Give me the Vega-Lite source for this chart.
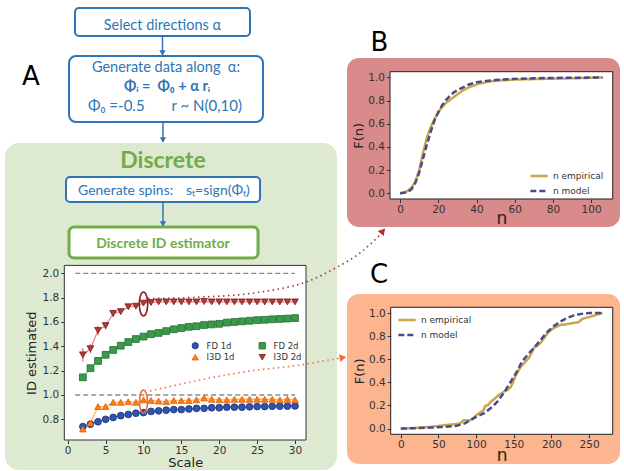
{
  "$schema": "https://vega.github.io/schema/vega-lite/v6.json",
  "width": 624,
  "height": 471,
  "autosize": {"type": "none"},
  "padding": 0,
  "background": "white",
  "config": {
    "view": {"stroke": null},
    "axis": {"grid": false, "domain": false, "labelFont": "DejaVu Sans", "titleFont": "DejaVu Sans", "labelColor": "#333", "titleColor": "#222", "tickColor": "#333", "tickSize": 3.5, "labelPadding": 2, "titleFontWeight": "normal", "labelFontSize": 10.5, "labelFlush": false}
  },
  "datasets": {
    "idcurves": [
      {"series":"FD 1d","scale":2,"id":0.74},{"series":"FD 1d","scale":3,"id":0.76},{"series":"FD 1d","scale":4,"id":0.78},{"series":"FD 1d","scale":5,"id":0.80},{"series":"FD 1d","scale":6,"id":0.815},{"series":"FD 1d","scale":7,"id":0.83},{"series":"FD 1d","scale":8,"id":0.84},{"series":"FD 1d","scale":9,"id":0.85},{"series":"FD 1d","scale":10,"id":0.855},{"series":"FD 1d","scale":11,"id":0.865},{"series":"FD 1d","scale":12,"id":0.87},{"series":"FD 1d","scale":13,"id":0.875},{"series":"FD 1d","scale":14,"id":0.88},{"series":"FD 1d","scale":15,"id":0.88},{"series":"FD 1d","scale":16,"id":0.885},{"series":"FD 1d","scale":17,"id":0.89},{"series":"FD 1d","scale":18,"id":0.89},{"series":"FD 1d","scale":19,"id":0.895},{"series":"FD 1d","scale":20,"id":0.895},{"series":"FD 1d","scale":21,"id":0.90},{"series":"FD 1d","scale":22,"id":0.90},{"series":"FD 1d","scale":23,"id":0.90},{"series":"FD 1d","scale":24,"id":0.903},{"series":"FD 1d","scale":25,"id":0.905},{"series":"FD 1d","scale":26,"id":0.905},{"series":"FD 1d","scale":27,"id":0.907},{"series":"FD 1d","scale":28,"id":0.908},{"series":"FD 1d","scale":29,"id":0.908},{"series":"FD 1d","scale":30,"id":0.91},
      {"series":"FD 2d","scale":2,"id":1.145},{"series":"FD 2d","scale":3,"id":1.22},{"series":"FD 2d","scale":4,"id":1.28},{"series":"FD 2d","scale":5,"id":1.33},{"series":"FD 2d","scale":6,"id":1.37},{"series":"FD 2d","scale":7,"id":1.405},{"series":"FD 2d","scale":8,"id":1.435},{"series":"FD 2d","scale":9,"id":1.46},{"series":"FD 2d","scale":10,"id":1.48},{"series":"FD 2d","scale":11,"id":1.50},{"series":"FD 2d","scale":12,"id":1.51},{"series":"FD 2d","scale":13,"id":1.525},{"series":"FD 2d","scale":14,"id":1.54},{"series":"FD 2d","scale":15,"id":1.55},{"series":"FD 2d","scale":16,"id":1.56},{"series":"FD 2d","scale":17,"id":1.565},{"series":"FD 2d","scale":18,"id":1.575},{"series":"FD 2d","scale":19,"id":1.58},{"series":"FD 2d","scale":20,"id":1.585},{"series":"FD 2d","scale":21,"id":1.595},{"series":"FD 2d","scale":22,"id":1.60},{"series":"FD 2d","scale":23,"id":1.605},{"series":"FD 2d","scale":24,"id":1.61},{"series":"FD 2d","scale":25,"id":1.615},{"series":"FD 2d","scale":26,"id":1.618},{"series":"FD 2d","scale":27,"id":1.622},{"series":"FD 2d","scale":28,"id":1.625},{"series":"FD 2d","scale":29,"id":1.628},{"series":"FD 2d","scale":30,"id":1.632},
      {"series":"I3D 1d","scale":2,"id":0.72,"err":0.015},{"series":"I3D 1d","scale":3,"id":0.77,"err":0.015},{"series":"I3D 1d","scale":4,"id":0.905,"err":0.012},{"series":"I3D 1d","scale":5,"id":0.905,"err":0.01},{"series":"I3D 1d","scale":6,"id":0.94,"err":0.01},{"series":"I3D 1d","scale":7,"id":0.94,"err":0.008},{"series":"I3D 1d","scale":8,"id":0.945,"err":0.008},{"series":"I3D 1d","scale":9,"id":0.94,"err":0.008},{"series":"I3D 1d","scale":10,"id":0.96,"err":0.008},{"series":"I3D 1d","scale":11,"id":0.955,"err":0.008},{"series":"I3D 1d","scale":12,"id":0.95,"err":0.008},{"series":"I3D 1d","scale":13,"id":0.945,"err":0.008},{"series":"I3D 1d","scale":14,"id":0.955,"err":0.008},{"series":"I3D 1d","scale":15,"id":0.955,"err":0.008},{"series":"I3D 1d","scale":16,"id":0.955,"err":0.008},{"series":"I3D 1d","scale":17,"id":0.96,"err":0.008},{"series":"I3D 1d","scale":18,"id":0.975,"err":0.008},{"series":"I3D 1d","scale":19,"id":0.965,"err":0.008},{"series":"I3D 1d","scale":20,"id":0.96,"err":0.008},{"series":"I3D 1d","scale":21,"id":0.96,"err":0.008},{"series":"I3D 1d","scale":22,"id":0.965,"err":0.008},{"series":"I3D 1d","scale":23,"id":0.965,"err":0.008},{"series":"I3D 1d","scale":24,"id":0.965,"err":0.008},{"series":"I3D 1d","scale":25,"id":0.965,"err":0.008},{"series":"I3D 1d","scale":26,"id":0.965,"err":0.008},{"series":"I3D 1d","scale":27,"id":0.965,"err":0.008},{"series":"I3D 1d","scale":28,"id":0.96,"err":0.008},{"series":"I3D 1d","scale":29,"id":0.965,"err":0.008},{"series":"I3D 1d","scale":30,"id":0.96,"err":0.008},
      {"series":"I3D 2d","scale":2,"id":1.33,"err":0.055},{"series":"I3D 2d","scale":3,"id":1.38,"err":0.04},{"series":"I3D 2d","scale":4,"id":1.53,"err":0.04},{"series":"I3D 2d","scale":5,"id":1.57,"err":0.03},{"series":"I3D 2d","scale":6,"id":1.67,"err":0.03},{"series":"I3D 2d","scale":7,"id":1.685,"err":0.02},{"series":"I3D 2d","scale":8,"id":1.725,"err":0.015},{"series":"I3D 2d","scale":9,"id":1.73,"err":0.015},{"series":"I3D 2d","scale":10,"id":1.755,"err":0.012},{"series":"I3D 2d","scale":11,"id":1.76,"err":0.01},{"series":"I3D 2d","scale":12,"id":1.765,"err":0.01},{"series":"I3D 2d","scale":13,"id":1.765,"err":0.01},{"series":"I3D 2d","scale":14,"id":1.765,"err":0.01},{"series":"I3D 2d","scale":15,"id":1.765,"err":0.01},{"series":"I3D 2d","scale":16,"id":1.765,"err":0.01},{"series":"I3D 2d","scale":17,"id":1.765,"err":0.01},{"series":"I3D 2d","scale":18,"id":1.768,"err":0.01},{"series":"I3D 2d","scale":19,"id":1.765,"err":0.01},{"series":"I3D 2d","scale":20,"id":1.765,"err":0.01},{"series":"I3D 2d","scale":21,"id":1.765,"err":0.01},{"series":"I3D 2d","scale":22,"id":1.765,"err":0.01},{"series":"I3D 2d","scale":23,"id":1.765,"err":0.01},{"series":"I3D 2d","scale":24,"id":1.765,"err":0.01},{"series":"I3D 2d","scale":25,"id":1.765,"err":0.01},{"series":"I3D 2d","scale":26,"id":1.765,"err":0.01},{"series":"I3D 2d","scale":27,"id":1.765,"err":0.01},{"series":"I3D 2d","scale":28,"id":1.765,"err":0.01},{"series":"I3D 2d","scale":29,"id":1.765,"err":0.01},{"series":"I3D 2d","scale":30,"id":1.765,"err":0.01}
    ],
    "cdfB": [
      {"series":"n empirical","n":0,"F":0},{"series":"n empirical","n":2,"F":0.005},{"series":"n empirical","n":4,"F":0.02},{"series":"n empirical","n":6,"F":0.05},{"series":"n empirical","n":8,"F":0.1},{"series":"n empirical","n":10,"F":0.2},{"series":"n empirical","n":12,"F":0.35},{"series":"n empirical","n":14,"F":0.48},{"series":"n empirical","n":16,"F":0.57},{"series":"n empirical","n":18,"F":0.64},{"series":"n empirical","n":20,"F":0.7},{"series":"n empirical","n":22,"F":0.745},{"series":"n empirical","n":24,"F":0.78},{"series":"n empirical","n":26,"F":0.805},{"series":"n empirical","n":28,"F":0.83},{"series":"n empirical","n":30,"F":0.855},{"series":"n empirical","n":33,"F":0.89},{"series":"n empirical","n":36,"F":0.915},{"series":"n empirical","n":40,"F":0.94},{"series":"n empirical","n":45,"F":0.96},{"series":"n empirical","n":50,"F":0.972},{"series":"n empirical","n":60,"F":0.982},{"series":"n empirical","n":70,"F":0.986},{"series":"n empirical","n":80,"F":0.99},{"series":"n empirical","n":90,"F":0.993},{"series":"n empirical","n":100,"F":0.997},{"series":"n empirical","n":106,"F":1.0},
      {"series":"n model","n":0,"F":0},{"series":"n model","n":2,"F":0.003},{"series":"n model","n":4,"F":0.012},{"series":"n model","n":6,"F":0.035},{"series":"n model","n":8,"F":0.09},{"series":"n model","n":10,"F":0.18},{"series":"n model","n":12,"F":0.3},{"series":"n model","n":14,"F":0.42},{"series":"n model","n":16,"F":0.53},{"series":"n model","n":18,"F":0.63},{"series":"n model","n":20,"F":0.7},{"series":"n model","n":22,"F":0.76},{"series":"n model","n":24,"F":0.805},{"series":"n model","n":26,"F":0.84},{"series":"n model","n":28,"F":0.87},{"series":"n model","n":30,"F":0.89},{"series":"n model","n":33,"F":0.915},{"series":"n model","n":36,"F":0.94},{"series":"n model","n":40,"F":0.958},{"series":"n model","n":45,"F":0.97},{"series":"n model","n":50,"F":0.978},{"series":"n model","n":60,"F":0.988},{"series":"n model","n":70,"F":0.993},{"series":"n model","n":80,"F":0.996},{"series":"n model","n":90,"F":0.998},{"series":"n model","n":100,"F":0.999},{"series":"n model","n":106,"F":1.0}
    ],
    "cdfC": [
      {"series":"n empirical","n":0,"F":0},{"series":"n empirical","n":20,"F":0.005},{"series":"n empirical","n":40,"F":0.015},{"series":"n empirical","n":60,"F":0.03},{"series":"n empirical","n":76,"F":0.04},{"series":"n empirical","n":80,"F":0.05},{"series":"n empirical","n":83,"F":0.072},{"series":"n empirical","n":92,"F":0.072},{"series":"n empirical","n":96,"F":0.09},{"series":"n empirical","n":101,"F":0.12},{"series":"n empirical","n":106,"F":0.14},{"series":"n empirical","n":110,"F":0.16},{"series":"n empirical","n":112,"F":0.195},{"series":"n empirical","n":116,"F":0.205},{"series":"n empirical","n":120,"F":0.235},{"series":"n empirical","n":125,"F":0.26},{"series":"n empirical","n":129,"F":0.285},{"series":"n empirical","n":133,"F":0.3},{"series":"n empirical","n":137,"F":0.32},{"series":"n empirical","n":142,"F":0.335},{"series":"n empirical","n":146,"F":0.36},{"series":"n empirical","n":149,"F":0.4},{"series":"n empirical","n":152,"F":0.45},{"series":"n empirical","n":156,"F":0.5},{"series":"n empirical","n":160,"F":0.54},{"series":"n empirical","n":163,"F":0.56},{"series":"n empirical","n":167,"F":0.59},{"series":"n empirical","n":170,"F":0.61},{"series":"n empirical","n":174,"F":0.66},{"series":"n empirical","n":177,"F":0.7},{"series":"n empirical","n":182,"F":0.72},{"series":"n empirical","n":186,"F":0.745},{"series":"n empirical","n":190,"F":0.78},{"series":"n empirical","n":195,"F":0.826},{"series":"n empirical","n":199,"F":0.85},{"series":"n empirical","n":203,"F":0.87},{"series":"n empirical","n":208,"F":0.885},{"series":"n empirical","n":212,"F":0.898},{"series":"n empirical","n":218,"F":0.9},{"series":"n empirical","n":225,"F":0.91},{"series":"n empirical","n":230,"F":0.915},{"series":"n empirical","n":236,"F":0.92},{"series":"n empirical","n":240,"F":0.945},{"series":"n empirical","n":245,"F":0.958},{"series":"n empirical","n":250,"F":0.965},{"series":"n empirical","n":256,"F":0.977},{"series":"n empirical","n":262,"F":0.99},{"series":"n empirical","n":268,"F":1.0},
      {"series":"n model","n":0,"F":0},{"series":"n model","n":20,"F":0.003},{"series":"n model","n":40,"F":0.008},{"series":"n model","n":60,"F":0.016},{"series":"n model","n":74,"F":0.023},{"series":"n model","n":85,"F":0.045},{"series":"n model","n":92,"F":0.07},{"series":"n model","n":100,"F":0.1},{"series":"n model","n":110,"F":0.13},{"series":"n model","n":120,"F":0.18},{"series":"n model","n":128,"F":0.23},{"series":"n model","n":137,"F":0.31},{"series":"n model","n":146,"F":0.405},{"series":"n model","n":154,"F":0.49},{"series":"n model","n":161,"F":0.58},{"series":"n model","n":170,"F":0.65},{"series":"n model","n":177,"F":0.7},{"series":"n model","n":186,"F":0.77},{"series":"n model","n":195,"F":0.84},{"series":"n model","n":203,"F":0.885},{"series":"n model","n":212,"F":0.927},{"series":"n model","n":220,"F":0.955},{"series":"n model","n":230,"F":0.98},{"series":"n model","n":240,"F":0.993},{"series":"n model","n":250,"F":1.0},{"series":"n model","n":268,"F":1.0}
    ],
    "arrows": [
      {"arrow":"B","scale":10.6,"id":1.793},{"arrow":"B","scale":17.06,"id":1.803},{"arrow":"B","scale":25.78,"id":1.849},{"arrow":"B","scale":31.58,"id":1.931},{"arrow":"B","scale":35.27,"id":2.041},{"arrow":"B","scale":38.58,"id":2.167},{"arrow":"B","scale":41.22,"id":2.315},
      {"arrow":"C","scale":10.86,"id":1.033},{"arrow":"C","scale":17.46,"id":1.123},{"arrow":"C","scale":24.06,"id":1.197},{"arrow":"C","scale":30.66,"id":1.246},{"arrow":"C","scale":35.27,"id":1.296},{"arrow":"C","scale":36.07,"id":1.304}
    ]
  },
  "layer": [
    {
      "data": {"values": [{}]},
      "layer": [
        {"mark": {"type": "rect", "fill": "#dde9d1", "cornerRadius": 14},
         "encoding": {"x": {"datum": 0.008, "type": "quantitative", "scale": {"domain": [0, 1], "range": [0, 624], "nice": false, "zero": false}, "axis": null}, "x2": {"datum": 0.5401},
                      "y": {"datum": 0.3036, "type": "quantitative", "scale": {"domain": [0, 1], "range": [0, 471], "nice": false, "zero": false}, "axis": null}, "y2": {"datum": 0.9979}}},
        {"mark": {"type": "rect", "fill": "#d98a8a", "cornerRadius": 12},
         "encoding": {"x": {"datum": 0.5561, "axis": null}, "x2": {"datum": 0.9936}, "y": {"datum": 0.1231, "axis": null}, "y2": {"datum": 0.482}}},
        {"mark": {"type": "rect", "fill": "#fcb58e", "cornerRadius": 12},
         "encoding": {"x": {"datum": 0.5561, "axis": null}, "x2": {"datum": 0.9936}, "y": {"datum": 0.6242, "axis": null}, "y2": {"datum": 0.9851}}},
        {"mark": {"type": "rect", "fill": "white", "stroke": "#2e75b6", "strokeWidth": 2, "cornerRadius": 4},
         "encoding": {"x": {"datum": 0.1202, "axis": null}, "x2": {"datum": 0.4006}, "y": {"datum": 0.017, "axis": null}, "y2": {"datum": 0.0764}}},
        {"mark": {"type": "rect", "fill": "white", "stroke": "#2e75b6", "strokeWidth": 2, "cornerRadius": 7},
         "encoding": {"x": {"datum": 0.1106, "axis": null}, "x2": {"datum": 0.4215}, "y": {"datum": 0.1189, "axis": null}, "y2": {"datum": 0.259}}},
        {"mark": {"type": "rect", "fill": "white", "stroke": "#2e75b6", "strokeWidth": 2, "cornerRadius": 4},
         "encoding": {"x": {"datum": 0.1058, "axis": null}, "x2": {"datum": 0.4167}, "y": {"datum": 0.3758, "axis": null}, "y2": {"datum": 0.4289}}},
        {"mark": {"type": "rect", "fill": "white", "stroke": "#70ad47", "strokeWidth": 3, "cornerRadius": 5},
         "encoding": {"x": {"datum": 0.1106, "axis": null}, "x2": {"datum": 0.4135}, "y": {"datum": 0.482, "axis": null}, "y2": {"datum": 0.5478}}},
        {"mark": {"type": "rule", "stroke": "#2e75b6", "strokeWidth": 1.5},
         "encoding": {"x": {"datum": 0.2604, "axis": null}, "y": {"datum": 0.0764, "axis": null}, "y2": {"datum": 0.1125}}},
        {"mark": {"type": "rule", "stroke": "#2e75b6", "strokeWidth": 1.5},
         "encoding": {"x": {"datum": 0.2612, "axis": null}, "y": {"datum": 0.259, "axis": null}, "y2": {"datum": 0.2972}}},
        {"mark": {"type": "rule", "stroke": "#2e75b6", "strokeWidth": 1.5},
         "encoding": {"x": {"datum": 0.2612, "axis": null}, "y": {"datum": 0.4289, "axis": null}, "y2": {"datum": 0.4756}}},
        {"mark": {"type": "point", "shape": "triangle-down", "filled": true, "size": 40, "color": "#2e75b6", "opacity": 1},
         "encoding": {"x": {"datum": 0.2604, "axis": null}, "y": {"datum": 0.1125, "axis": null}}},
        {"mark": {"type": "point", "shape": "triangle-down", "filled": true, "size": 40, "color": "#2e75b6", "opacity": 1},
         "encoding": {"x": {"datum": 0.2612, "axis": null}, "y": {"datum": 0.2972, "axis": null}}},
        {"mark": {"type": "point", "shape": "triangle-down", "filled": true, "size": 40, "color": "#2e75b6", "opacity": 1},
         "encoding": {"x": {"datum": 0.2612, "axis": null}, "y": {"datum": 0.4756, "axis": null}}},
        {"mark": {"type": "text", "text": "A", "font": "DejaVu Sans", "fontSize": 26, "color": "black", "align": "center", "baseline": "alphabetic"},
         "encoding": {"x": {"datum": 0.0497, "axis": null}, "y": {"datum": 0.1805, "axis": null}}},
        {"mark": {"type": "text", "text": "B", "font": "DejaVu Sans", "fontSize": 26, "color": "black", "align": "center", "baseline": "alphabetic"},
         "encoding": {"x": {"datum": 0.6082, "axis": null}, "y": {"datum": 0.1083, "axis": null}}},
        {"mark": {"type": "text", "text": "C", "font": "DejaVu Sans", "fontSize": 26, "color": "black", "align": "center", "baseline": "alphabetic"},
         "encoding": {"x": {"datum": 0.6074, "axis": null}, "y": {"datum": 0.6008, "axis": null}}},
        {"mark": {"type": "text", "text": "Select directions α", "font": "Lato", "fontSize": 14.5, "color": "#2e75b6", "align": "center", "baseline": "alphabetic"},
         "encoding": {"x": {"datum": 0.2604, "axis": null}, "y": {"datum": 0.0637, "axis": null}}},
        {"mark": {"type": "text", "text": "Generate data along\u00a0\u00a0α:", "font": "Lato", "fontSize": 14.5, "color": "#2e75b6", "align": "center", "baseline": "alphabetic"},
         "encoding": {"x": {"datum": 0.266, "axis": null}, "y": {"datum": 0.1529, "axis": null}}},
        {"mark": {"type": "text", "text": "Φᵢ\u00a0=\u00a0\u00a0Φ₀\u00a0+\u00a0α rᵢ", "font": "Lato", "fontSize": 14.5, "fontWeight": "bold", "color": "#2e75b6", "align": "center", "baseline": "alphabetic"},
         "encoding": {"x": {"datum": 0.2676, "axis": null}, "y": {"datum": 0.1932, "axis": null}}},
        {"mark": {"type": "text", "text": "Φ₀\u00a0=-0.5\u00a0\u00a0\u00a0\u00a0\u00a0\u00a0\u00a0r ~ N(0,10)", "font": "Lato", "fontSize": 15, "color": "#2e75b6", "align": "center", "baseline": "alphabetic"},
         "encoding": {"x": {"datum": 0.2644, "axis": null}, "y": {"datum": 0.2357, "axis": null}}},
        {"mark": {"type": "text", "text": "Discrete", "font": "Lato", "fontSize": 23, "fontWeight": "bold", "color": "#70ad47", "align": "center", "baseline": "alphabetic"},
         "encoding": {"x": {"datum": 0.2612, "axis": null}, "y": {"datum": 0.3567, "axis": null}}},
        {"mark": {"type": "text", "text": "Generate spins:", "font": "Lato", "fontSize": 14, "color": "#2e75b6", "align": "left", "baseline": "alphabetic"},
         "encoding": {"x": {"datum": 0.125, "axis": null}, "y": {"datum": 0.414, "axis": null}}},
        {"mark": {"type": "text", "text": "sₜ=sign(Φₜ)", "font": "Lato", "fontSize": 14, "color": "#2e75b6", "align": "left", "baseline": "alphabetic"},
         "encoding": {"x": {"datum": 0.2981, "axis": null}, "y": {"datum": 0.414, "axis": null}}},
        {"mark": {"type": "text", "text": "Discrete ID estimator", "font": "Lato", "fontSize": 14, "fontWeight": "bold", "color": "#70ad47", "align": "center", "baseline": "alphabetic"},
         "encoding": {"x": {"datum": 0.2612, "axis": null}, "y": {"datum": 0.5265, "axis": null}}}
      ]
    },
    {
      "data": {"name": "idcurves"},
      "layer": [
        {"data": {"values": [{}]},
         "mark": {"type": "rect", "fill": "white", "stroke": "#333", "strokeWidth": 1},
         "encoding": {
           "x": {"datum": -0.45, "type": "quantitative", "scale": {"domain": [-0.45, 31.45], "range": [64.3, 306], "nice": false, "zero": false},
                 "axis": {"orient": "bottom", "offset": -31, "zindex": 2, "values": [0, 5, 10, 15, 20, 25, 30], "title": "Scale", "titleFontSize": 13, "titlePadding": 0}},
           "x2": {"datum": 31.45},
           "y": {"datum": 0.63, "type": "quantitative", "scale": {"domain": [0.63, 2.065], "range": [440, 265.4], "nice": false, "zero": false},
                 "axis": {"orient": "left", "offset": -64.3, "zindex": 2, "values": [0.8, 1.0, 1.2, 1.4, 1.6, 1.8, 2.0], "format": ".1f", "title": "ID estimated", "titleFontSize": 13, "titlePadding": 4}},
           "y2": {"datum": 2.065}
         }},
        {"data": {"values": [{}]},
         "mark": {"type": "rule", "stroke": "#8a8a8a", "strokeDash": [5, 3], "strokeWidth": 1.3},
         "encoding": {"x": {"datum": 1}, "x2": {"datum": 30}, "y": {"datum": 2.0}}},
        {"data": {"values": [{}]},
         "mark": {"type": "rule", "stroke": "#8a8a8a", "strokeDash": [5, 3], "strokeWidth": 1.3},
         "encoding": {"x": {"datum": 1}, "x2": {"datum": 30}, "y": {"datum": 1.0}}},
        {"transform": [{"filter": "datum.err > 0"}],
         "mark": {"type": "errorbar", "thickness": 1.5},
         "encoding": {
           "x": {"field": "scale", "type": "quantitative", "title": "Scale"},
           "y": {"field": "id", "type": "quantitative", "title": "ID estimated"},
           "yError": {"field": "err"},
           "color": {"field": "series", "type": "nominal", "legend": null, "scale": {"domain": ["FD 1d", "I3D 1d", "FD 2d", "I3D 2d"], "range": ["#8fa9dc", "#ffb567", "#8fd3a2", "#e68a8e"]}}
         }},
        {"mark": {"type": "line", "strokeWidth": 1.3},
         "encoding": {
           "x": {"field": "scale", "type": "quantitative", "title": "Scale"},
           "y": {"field": "id", "type": "quantitative", "title": "ID estimated"},
           "color": {"field": "series", "type": "nominal", "legend": null}
         }},
        {"mark": {"type": "point", "filled": true, "size": 46, "opacity": 1, "strokeWidth": 0.8},
         "encoding": {
           "x": {"field": "scale", "type": "quantitative", "title": "Scale"},
           "y": {"field": "id", "type": "quantitative", "title": "ID estimated"},
           "fill": {"field": "series", "type": "nominal", "scale": {"domain": ["FD 1d", "I3D 1d", "FD 2d", "I3D 2d"], "range": ["#2c55ad", "#ff7f0e", "#3a9c4a", "#b23a3a"]},
                    "legend": {"title": null, "orient": "none", "legendX": 191, "legendY": 341, "columns": 2, "columnPadding": 22, "rowPadding": 1, "labelFontSize": 8.5, "labelFont": "DejaVu Sans", "labelColor": "#333", "symbolSize": 40, "labelOffset": 7, "padding": 0, "symbolStrokeWidth": 0.8}},
           "stroke": {"field": "series", "type": "nominal", "scale": {"domain": ["FD 1d", "I3D 1d", "FD 2d", "I3D 2d"], "range": ["#1b2f78", "#e0600a", "#1f6b2c", "#7a1818"]},
                    "legend": {"title": null, "orient": "none", "legendX": 191, "legendY": 341, "columns": 2, "columnPadding": 22, "rowPadding": 1, "labelFontSize": 8.5, "labelFont": "DejaVu Sans", "labelColor": "#333", "symbolSize": 40, "labelOffset": 7, "padding": 0, "symbolStrokeWidth": 0.8}},
           "shape": {"field": "series", "type": "nominal", "scale": {"domain": ["FD 1d", "I3D 1d", "FD 2d", "I3D 2d"], "range": ["circle", "triangle-up", "square", "triangle-down"]},
                    "legend": {"title": null, "orient": "none", "legendX": 191, "legendY": 341, "columns": 2, "columnPadding": 22, "rowPadding": 1, "labelFontSize": 8.5, "labelFont": "DejaVu Sans", "labelColor": "#333", "symbolSize": 40, "labelOffset": 7, "padding": 0, "symbolStrokeWidth": 0.8}}
         }},
        {"data": {"values": [{}]},
         "mark": {"type": "point", "shape": "M0,-1A0.35,1,0,1,1,0,1A0.35,1,0,1,1,0,-1Z", "filled": false, "size": 576, "stroke": "#8b1f1f", "strokeWidth": 1.6, "opacity": 1},
         "encoding": {"x": {"datum": 10}, "y": {"datum": 1.748}}},
        {"data": {"values": [{}]},
         "mark": {"type": "point", "shape": "M0,-1A0.35,1,0,1,1,0,1A0.35,1,0,1,1,0,-1Z", "filled": false, "size": 529, "stroke": "#f26a3c", "strokeWidth": 1.6, "opacity": 1},
         "encoding": {"x": {"datum": 10}, "y": {"datum": 0.946}}},
        {"data": {"name": "arrows"},
         "transform": [{"filter": "datum.arrow == 'B'"}],
         "mark": {"type": "line", "stroke": "#a83232", "strokeDash": [1.5, 3.5], "strokeWidth": 1.6, "interpolate": "monotone"},
         "encoding": {"x": {"field": "scale", "type": "quantitative", "title": "Scale"}, "y": {"field": "id", "type": "quantitative", "title": "ID estimated"}}},
        {"data": {"name": "arrows"},
         "transform": [{"filter": "datum.arrow == 'C'"}],
         "mark": {"type": "line", "stroke": "#ff6a3d", "strokeDash": [1.5, 3.5], "strokeWidth": 1.6, "interpolate": "monotone"},
         "encoding": {"x": {"field": "scale", "type": "quantitative", "title": "Scale"}, "y": {"field": "id", "type": "quantitative", "title": "ID estimated"}}},
        {"data": {"values": [{}]},
         "mark": {"type": "point", "shape": "triangle-up", "filled": true, "size": 60, "color": "#a83232", "opacity": 1, "angle": 40},
         "encoding": {"x": {"datum": 41.6}, "y": {"datum": 2.348}}},
        {"data": {"values": [{}]},
         "mark": {"type": "point", "shape": "triangle-up", "filled": true, "size": 60, "color": "#ff6a3d", "opacity": 1, "angle": 80},
         "encoding": {"x": {"datum": 36.33}, "y": {"datum": 1.308}}}
      ]
    },
    {
      "data": {"name": "cdfB"},
      "layer": [
        {"data": {"values": [{}]},
         "mark": {"type": "rect", "fill": "white", "stroke": "#222", "strokeWidth": 1},
         "encoding": {
           "x": {"datum": -5.3, "type": "quantitative", "scale": {"domain": [-5.3, 111.3], "range": [390, 612.7], "nice": false, "zero": false},
                 "axis": {"orient": "bottom", "offset": -272, "zindex": 2, "values": [0, 20, 40, 60, 80, 100], "title": "n", "titleFontSize": 17, "titlePadding": -5}},
           "x2": {"datum": 111.3},
           "y": {"datum": -0.05, "type": "quantitative", "scale": {"domain": [-0.05, 1.05], "range": [199, 71.7], "nice": false, "zero": false},
                 "axis": {"orient": "left", "offset": -390, "zindex": 2, "values": [0, 0.2, 0.4, 0.6, 0.8, 1.0], "format": ".1f", "title": "F(n)", "titleFontSize": 13, "titlePadding": 2}},
           "y2": {"datum": 1.05}
         }},
        {"mark": {"type": "line", "strokeWidth": 2.5},
         "encoding": {
           "x": {"field": "n", "type": "quantitative", "title": "n"},
           "y": {"field": "F", "type": "quantitative", "title": "F(n)"},
           "color": {"field": "series", "type": "nominal", "scale": {"domain": ["n empirical", "n model"], "range": ["#c9a84a", "#4a4a8a"]},
                     "legend": {"title": null, "orient": "none", "legendX": 529, "legendY": 166, "symbolType": "stroke", "symbolSize": 300, "symbolStrokeWidth": 2.5, "labelFontSize": 9, "labelFont": "DejaVu Sans", "labelColor": "#333", "rowPadding": -4, "padding": 0, "labelOffset": 4}},
           "strokeDash": {"field": "series", "type": "nominal", "scale": {"domain": ["n empirical", "n model"], "range": [[1, 0], [6, 3]]},
                     "legend": {"title": null, "orient": "none", "legendX": 529, "legendY": 166, "symbolType": "stroke", "symbolSize": 300, "symbolStrokeWidth": 2.5, "labelFontSize": 9, "labelFont": "DejaVu Sans", "labelColor": "#333", "rowPadding": -4, "padding": 0, "labelOffset": 4}}
         }}
      ]
    },
    {
      "data": {"name": "cdfC"},
      "layer": [
        {"data": {"values": [{}]},
         "mark": {"type": "rect", "fill": "white", "stroke": "#222", "strokeWidth": 1},
         "encoding": {
           "x": {"datum": -13.4, "type": "quantitative", "scale": {"domain": [-13.4, 281.4], "range": [390.7, 612.7], "nice": false, "zero": false},
                 "axis": {"orient": "bottom", "offset": -36.7, "zindex": 2, "values": [0, 50, 100, 150, 200, 250], "title": "n", "titleFontSize": 17, "titlePadding": -3}},
           "x2": {"datum": 281.4},
           "y": {"datum": -0.05, "type": "quantitative", "scale": {"domain": [-0.05, 1.05], "range": [434.3, 307.3], "nice": false, "zero": false},
                 "axis": {"orient": "left", "offset": -390.7, "zindex": 2, "values": [0, 0.2, 0.4, 0.6, 0.8, 1.0], "format": ".1f", "title": "F(n)", "titleFontSize": 13, "titlePadding": 2}},
           "y2": {"datum": 1.05}
         }},
        {"mark": {"type": "line", "strokeWidth": 2.5},
         "encoding": {
           "x": {"field": "n", "type": "quantitative", "title": "n"},
           "y": {"field": "F", "type": "quantitative", "title": "F(n)"},
           "color": {"field": "series", "type": "nominal", "scale": {"domain": ["n empirical", "n model"], "range": ["#c9a84a", "#4a4a8a"]},
                     "legend": {"title": null, "orient": "none", "legendX": 397, "legendY": 310, "symbolType": "stroke", "symbolSize": 300, "symbolStrokeWidth": 2.5, "labelFontSize": 9, "labelFont": "DejaVu Sans", "labelColor": "#333", "rowPadding": -4, "padding": 0, "labelOffset": 4}},
           "strokeDash": {"field": "series", "type": "nominal", "scale": {"domain": ["n empirical", "n model"], "range": [[1, 0], [6, 3]]},
                     "legend": {"title": null, "orient": "none", "legendX": 397, "legendY": 310, "symbolType": "stroke", "symbolSize": 300, "symbolStrokeWidth": 2.5, "labelFontSize": 9, "labelFont": "DejaVu Sans", "labelColor": "#333", "rowPadding": -4, "padding": 0, "labelOffset": 4}}
         }}
      ]
    }
  ],
  "resolve": {
    "scale": {"x": "independent", "y": "independent", "color": "independent", "strokeDash": "independent"},
    "axis": {"x": "independent", "y": "independent"},
    "legend": {"color": "independent", "strokeDash": "independent"}
  }
}
